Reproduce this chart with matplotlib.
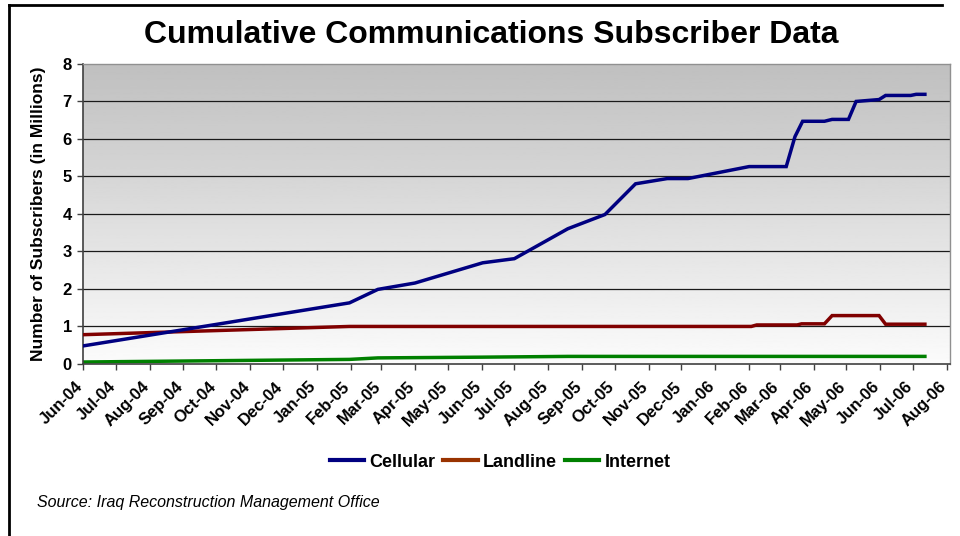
import numpy as np
import pandas as pd
import matplotlib
matplotlib.use('Agg')
import matplotlib.pyplot as plt
import matplotlib.dates as mdates
from matplotlib.lines import Line2D
from matplotlib.transforms import ScaledTranslation

plt.rcParams['font.family'] = ['Liberation Sans', 'DejaVu Sans']

# Subscriber counts (millions) at each reporting date
cell_dates = ['2004-06-01', '2005-01-31', '2005-02-26', '2005-04-01', '2005-06-02',
              '2005-07-01', '2005-08-19', '2005-09-22', '2005-10-20', '2005-11-18',
              '2005-12-07', '2006-02-01', '2006-03-07', '2006-03-15', '2006-03-22',
              '2006-04-11', '2006-04-18', '2006-05-03', '2006-05-10', '2006-05-31',
              '2006-06-06', '2006-06-29', '2006-07-04', '2006-07-12']
cellular = [0.47, 1.62, 1.98, 2.15, 2.69,
            2.80, 3.60, 3.98, 4.80, 4.94,
            4.94, 5.26, 5.26, 6.06, 6.47,
            6.47, 6.52, 6.52, 7.00, 7.05,
            7.16, 7.16, 7.19, 7.19]

land_dates = ['2004-06-01', '2005-01-31', '2006-02-03', '2006-02-08', '2006-03-17',
              '2006-03-21', '2006-04-11', '2006-04-18', '2006-05-31', '2006-06-06',
              '2006-07-12']
landline = [0.77, 0.99, 0.99, 1.03, 1.03,
            1.06, 1.06, 1.28, 1.28, 1.05,
            1.05]

net_dates = ['2004-06-01', '2005-01-31', '2005-02-26', '2005-06-02', '2005-08-19',
             '2006-07-12']
internet = [0.04, 0.11, 0.15, 0.17, 0.19,
            0.19]

month_ticks = pd.date_range('2004-06-01', '2006-08-01', freq='MS')

fig = plt.figure(figsize=(9.6, 5.36), dpi=100)
ax = fig.add_axes([0.0865, 0.3218, 0.9031, 0.5588])

# grey-to-white gradient behind the plot area
grad = np.linspace(0.985, 0.75, 256).reshape(-1, 1)
ax.imshow(grad, cmap='gray', vmin=0, vmax=1, aspect='auto',
          extent=[0, 1, 0, 1], transform=ax.transAxes, origin='lower', zorder=0)

for y in range(1, 8):
    ax.axhline(y, color='#1a1a1a', lw=0.9, zorder=1)

ax.plot(pd.to_datetime(cell_dates), cellular, color='#000080', lw=2.5,
        solid_joinstyle='miter', zorder=4, label='Cellular')
ax.plot(pd.to_datetime(land_dates), landline, color='#800000', lw=2.5,
        solid_joinstyle='miter', zorder=3, label='Landline')
ax.plot(pd.to_datetime(net_dates), internet, color='#008000', lw=2.5,
        solid_joinstyle='miter', zorder=2, label='Internet')

ax.set_xlim(pd.Timestamp('2004-06-01'), pd.Timestamp('2006-08-04'))
ax.set_ylim(0, 8)
ax.set_yticks(range(0, 9))
ax.set_xticks(month_ticks)
ax.xaxis.set_major_formatter(mdates.DateFormatter('%b-%y'))

ax.tick_params(axis='both', direction='out', length=4, width=1, color='#404040')
ax.tick_params(axis='x', pad=7)
ax.tick_params(axis='y', pad=4)

# rotated month labels end just left of their tick
shift = ScaledTranslation(-8 / 100, 0, fig.dpi_scale_trans)
for lbl in ax.get_xticklabels():
    lbl.set_rotation(45)
    lbl.set_ha('right')
    lbl.set_va('top')
    lbl.set_rotation_mode('anchor')
    lbl.set_fontsize(12)
    lbl.set_fontweight('bold')
    lbl.set_transform(lbl.get_transform() + shift)
for lbl in ax.get_yticklabels():
    lbl.set_fontsize(12)
    lbl.set_fontweight('bold')

for side in ['top', 'right']:
    ax.spines[side].set_color('#909090')
    ax.spines[side].set_linewidth(1.0)
for side in ['left', 'bottom']:
    ax.spines[side].set_color('#404040')
    ax.spines[side].set_linewidth(1.2)

ax.set_ylabel('Number of Subscribers (in Millions)', fontsize=12.5,
              fontweight='bold', labelpad=12)

fig.text(0.512, 0.935, 'Cumulative Communications Subscriber Data',
         ha='center', va='center', fontsize=23, fontweight='bold')

# legend keys use slightly brighter tones than the plotted lines
handles = [Line2D([], [], color='#000080', lw=3),
           Line2D([], [], color='#993300', lw=3),
           Line2D([], [], color='#008000', lw=3)]
fig.legend(handles, ['Cellular', 'Landline', 'Internet'], loc='center',
           bbox_to_anchor=(0.521, 0.138), ncol=3, frameon=False,
           prop={'weight': 'bold', 'size': 13}, handlelength=1.9,
           handletextpad=0.28, columnspacing=0.45)

fig.text(0.0385, 0.062, 'Source: Iraq Reconstruction Management Office',
         ha='left', va='center', fontsize=11.5, style='italic')

# outer frame (left and top edges)
fig.add_artist(Line2D([0.0094, 0.0094], [0, 0.991], color='black', lw=2,
                      transform=fig.transFigure))
fig.add_artist(Line2D([0.0094, 0.981], [0.991, 0.991], color='black', lw=2,
                      transform=fig.transFigure))

fig.savefig('out.png', dpi=100)
